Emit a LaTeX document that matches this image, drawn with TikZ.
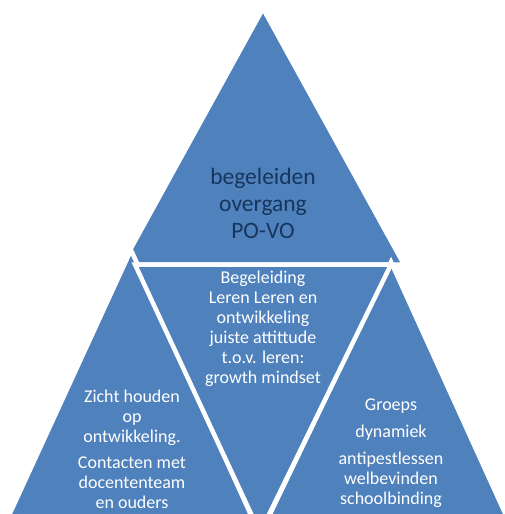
\documentclass[tikz,border=0pt]{standalone}
\usepackage{fontspec}
\setmainfont{Carlito}
\definecolor{triblue}{RGB}{79,129,189}
\definecolor{topnavy}{RGB}{23,54,93}
\tikzset{
  tri/.style={fill=triblue, draw=white, line width=4.5pt, line join=miter},
  lbl/.style={align=center, text=white, inner sep=0pt, font=\fontsize{18}{20}\selectfont},
}

\begin{document}
\begin{tikzpicture}[x=1pt, y=-1pt]
    % page and cut at the bottom
    \useasboundingbox (0,0) rectangle (505,514);
    \clip (0,0) rectangle (505,514);
    % the four triangles
    \path[tri] (263,8.5) -- (404,264.5) -- (122,264.5) -- cycle;
    \path[tri] (131,250) -- (260,535) -- (0,535) -- cycle;
    \path[tri] (391,262) -- (515,535) -- (260,535) -- cycle;
    \path[tri] (135,264.5) -- (391,264.5) -- (260,533) -- cycle;
    % texts
    \node[lbl, text=topnavy, font=\fontsize{23.5}{27}\selectfont] (povo) at (263,203)
        {begeleiden\\overgang\\PO-VO};
    \node[lbl] (leren) at (263,329)
        {Begeleiding\\Leren Leren en\\ontwikkeling\\juiste attittude\\t.o.v. leren:\\growth mindset};
    \node[lbl] (zicht) at (132,449)
        {Zicht houden\\op\\ontwikkeling.\\[6pt]Contacten met\\docententeam\\en ouders};
    \node[lbl] (groep) at (391,453)
        {Groeps\\[7pt]dynamiek\\[7pt]antipestlessen\\welbevinden\\schoolbinding};
\end{tikzpicture}
\end{document}
